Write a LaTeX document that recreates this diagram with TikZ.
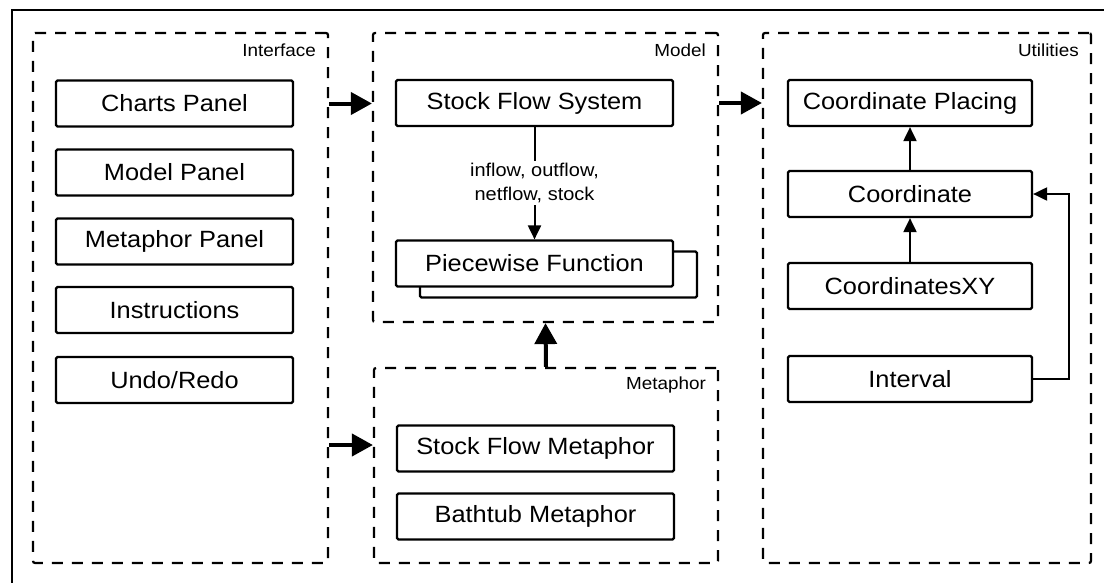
\documentclass[tikz,border=0pt]{standalone}
\usepackage{fontspec}
\setmainfont[FakeStretch=1.08]{Liberation Sans}
\usetikzlibrary{arrows.meta,positioning}

\tikzset{
  box/.style={draw, line width=2.2pt, rounded corners=1.5pt, fill=white,
    minimum height=46pt, inner sep=0pt, font=\fontsize{23.5}{27}\selectfont},
  ifbox/.style={box, minimum width=237pt},
  mbox/.style={box, minimum width=277pt},
  ubox/.style={box, minimum width=244pt},
  group/.style={draw, line width=2.2pt, dash pattern=on 11pt off 9pt,
    rounded corners=2pt, inner sep=0pt},
  grouplabel/.style={anchor=base east, inner sep=0pt, font=\fontsize{17.5}{20}\selectfont},
  bigarrow/.style={line width=4pt, -{Triangle[length=21pt,width=22pt]}},
  thinarrow/.style={line width=2pt, -{Triangle[length=14pt,width=13pt]}},
  flowlabel/.style={fill=white, inner sep=2pt, align=center,
    font=\fontsize{18.5}{24}\selectfont}
}

\begin{document}
\begin{tikzpicture}[x=1pt,y=-1pt]
  \useasboundingbox (0,0) rectangle (1104,582);

  % outer frame (runs off the right and bottom edges)
  \begin{scope}
    \clip (0,0) rectangle (1104,582);
    \draw[line width=2.8pt] (12,10) rectangle (1120,600);
  \end{scope}

  % group containers
  \node[group, minimum width=295pt, minimum height=530pt] (iface) at (180.5,298) {};
  \node[group, minimum width=345pt, minimum height=289pt] (model) at (545.5,177.5) {};
  \node[group, minimum width=344pt, minimum height=195pt] (meta) at (546,465.5) {};
  \node[group, minimum width=328pt, minimum height=530pt] (util) at (927,298) {};

  \node[grouplabel] (ifacelbl) at ([xshift=-13pt,yshift=-25pt]iface.north east) {Interface};
  \node[grouplabel] (modellbl) at ([xshift=-13pt,yshift=-25pt]model.north east) {Model};
  \node[grouplabel] (metalbl) at ([xshift=-13pt,yshift=-23pt]meta.north east) {Metaphor};
  \node[grouplabel] (utillbl) at ([xshift=-13pt,yshift=-25pt]util.north east) {Utilities};

  % Interface
  \node[ifbox] (charts) at (174.5,103.5) {Charts Panel};
  \node[ifbox] (mpanel) at (174.5,172.5) {Model Panel};
  \node[ifbox] (metapanel) at (174.5,241.5) {Metaphor Panel};
  \node[ifbox] (instr) at (174.5,310) {Instructions};
  \node[ifbox] (undo) at (174.5,380) {Undo/Redo};

  % Model
  \node[mbox] (sfs) at (534.5,103) {Stock Flow System};
  \node[mbox] (pfback) at (558.5,274.5) {};
  \node[mbox] (pf) at (534.5,263.5) {Piecewise Function};
  \draw[thinarrow] (sfs.south) -- node[flowlabel] (flow) {inflow, outflow,\\netflow, stock} (pf.north);

  % Metaphor
  \node[mbox] (sfm) at (535.5,448.5) {Stock Flow Metaphor};
  \node[mbox] (bath) at (535.5,516.5) {Bathtub Metaphor};

  % Utilities
  \node[ubox] (cplace) at (910,103) {Coordinate Placing};
  \node[ubox] (coord) at (910,194) {Coordinate};
  \node[ubox] (cxy) at (910,286) {CoordinatesXY};
  \node[ubox] (interval) at (910,379) {Interval};

  \draw[thinarrow] (coord.north) -- (cplace.south);
  \draw[thinarrow] (cxy.north) -- (coord.south);
  \draw[thinarrow] (interval.east) -- ++(36,0) |- (coord.east);

  % dependencies between groups
  \draw[bigarrow] (iface.east |- charts.center) -- (model.west |- charts.center);
  \draw[bigarrow] (model.east |- cplace.center) -- (util.west |- cplace.center);
  \draw[bigarrow] ([yshift=3.5pt]iface.east |- sfm.center) -- ([yshift=3.5pt]meta.west |- sfm.center);
  \draw[bigarrow] (meta.north) -- (model.south);
\end{tikzpicture}
\end{document}
